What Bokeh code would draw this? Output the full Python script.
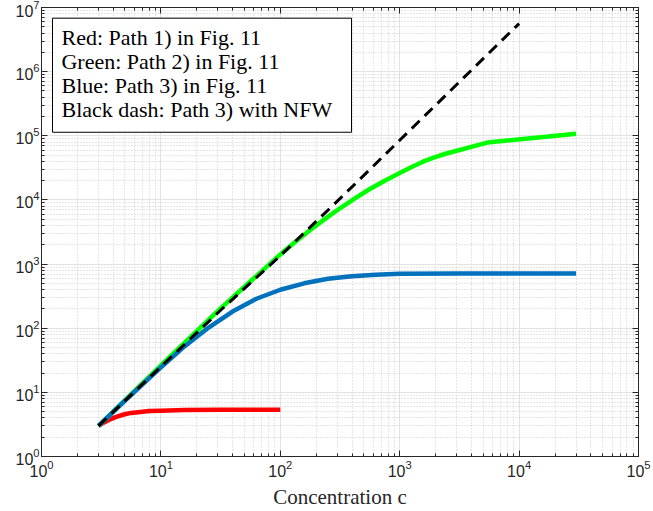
from bokeh.plotting import figure
from bokeh.models import Range1d, FixedTicker, LogAxis, LogTickFormatter, Label, BoxAnnotation
from bokeh.embed import file_html
from bokeh.resources import INLINE

# ---- data ----
x_major = [1e0, 1e1, 1e2, 1e3, 1e4, 1e5]
y_major = [1e0, 1e1, 1e2, 1e3, 1e4, 1e5, 1e6, 1e7]
mantissas_minor = [2, 3, 4, 5, 6, 7, 8, 9]

red_c = [3, 3.31, 3.66, 4.17, 4.89, 5.62, 6.75, 7.94, 10, 15.8, 31.6, 100]
red_v = [3, 3.37, 3.72, 4.12, 4.52, 4.78, 4.96, 5.1, 5.19, 5.3, 5.35, 5.36]

green_c = [3, 10, 31.6, 100, 133, 178, 237, 316, 422, 562, 750, 1000, 1259, 1585, 1950, 2420, 5410, 30000]
green_v = [3, 26.3, 204, 1413, 2213, 3388, 5070, 7413, 10590, 14790, 19950, 26300, 32700, 39800, 46200, 52500, 78300, 108000]

blue_c = [3, 5.01, 10, 15.85, 25.1, 39.8, 63.1, 100, 158.5, 251, 398, 631, 1000, 3162, 30000]
blue_v = [3, 7.41, 24.5, 52.5, 102.3, 182, 288, 398, 501, 589, 646, 684, 708, 716, 716]

nfw_c = [3, 10, 31.6, 100, 316, 1000, 3162, 10000]
nfw_v = [3, 25.1, 190.5, 1349, 10470, 85100, 692000, 5620000]

legend_lines = [
    "Red: Path 1) in Fig. 11",
    "Green: Path 2) in Fig. 11",
    "Blue: Path 3) in Fig. 11",
    "Black dash: Path 3) with NFW",
]
x_label = "Concentration c"

# ---- figure ----
p = figure(
    x_axis_type="log", y_axis_type="log",
    x_range=Range1d(1, 1e5), y_range=Range1d(1, 1e7),
    frame_width=597, frame_height=449,
    min_border_left=41, min_border_right=15, min_border_top=7, min_border_bottom=55,
    output_backend="svg", toolbar_location=None,
    background_fill_color="white", border_fill_color="white",
)
p.outline_line_color = "#262626"
p.outline_line_width = 1


def minors(majors):
    out = []
    for m in majors[:-1]:
        for k in mantissas_minor:
            out.append(m * k)
    return out


xt = FixedTicker(ticks=x_major, minor_ticks=minors(x_major))
yt = FixedTicker(ticks=y_major, minor_ticks=minors(y_major))

axis_color = "#262626"
tick_font = "Liberation Sans"


def style_axis(ax, labels=True):
    ax.axis_line_color = axis_color
    ax.major_tick_line_color = axis_color
    ax.minor_tick_line_color = axis_color
    ax.major_tick_in = 6
    ax.major_tick_out = 0
    ax.minor_tick_in = 3
    ax.minor_tick_out = 0
    if labels:
        ax.major_label_text_font = tick_font
        ax.major_label_text_font_size = "16px"
        ax.major_label_text_color = axis_color
    else:
        ax.major_label_text_font_size = "2px"
        ax.major_label_text_alpha = 0.0
        ax.major_label_standoff = 0


p.xaxis.ticker = xt
p.yaxis.ticker = yt
p.xaxis.formatter = LogTickFormatter()
p.yaxis.formatter = LogTickFormatter()
style_axis(p.xaxis[0])
style_axis(p.yaxis[0])
p.xaxis.major_label_standoff = 3
p.yaxis.major_label_standoff = 2
p.xaxis.axis_label = x_label
p.xaxis.axis_label_text_font = "Liberation Serif"
p.xaxis.axis_label_text_font_size = "21px"
p.xaxis.axis_label_text_font_style = "normal"
p.xaxis.axis_label_text_color = "#262626"
p.xaxis.axis_label_standoff = 5

top_ax = LogAxis(ticker=FixedTicker(ticks=x_major, minor_ticks=minors(x_major)))
right_ax = LogAxis(ticker=FixedTicker(ticks=y_major, minor_ticks=minors(y_major)))
style_axis(top_ax, labels=False)
style_axis(right_ax, labels=False)
p.add_layout(top_ax, "above")
p.add_layout(right_ax, "right")

# grids
for g in (p.xgrid[0], p.ygrid[0]):
    g.grid_line_color = "#e3e3e3"
    g.grid_line_width = 1
    g.minor_grid_line_color = "#b8b8b8"
    g.minor_grid_line_alpha = 0.7
    g.minor_grid_line_dash = "1 2"
    g.minor_grid_line_width = 1
p.xgrid.ticker = xt
p.ygrid.ticker = yt

# ---- curves ----
p.line(red_c, red_v, line_color="#ff0000", line_width=4.5)
p.line(green_c, green_v, line_color="#00ff00", line_width=4.5)
p.line(blue_c, blue_v, line_color="#0072bd", line_width=4.5)
p.line(nfw_c, nfw_v, line_color="black", line_width=3, line_dash="11 7")

# ---- text box (legend) ----
box = BoxAnnotation(left=1.236, right=394.9, top=6.81e6, bottom=1.135e5,
                    fill_color="white", fill_alpha=1.0,
                    line_color="black", line_alpha=1.0, line_width=1, level="annotation")
p.add_layout(box)
row_y = [3.44e6, 1.453e6, 6.13e5, 2.59e5]
for txt, yy in zip(legend_lines, row_y):
    p.add_layout(Label(x=1.47, y=yy, text=txt,
                       text_font="Liberation Serif", text_font_size="22px",
                       text_align="left", text_baseline="alphabetic",
                       text_color="black"))

open("out.html", "w").write(file_html(p, INLINE))
